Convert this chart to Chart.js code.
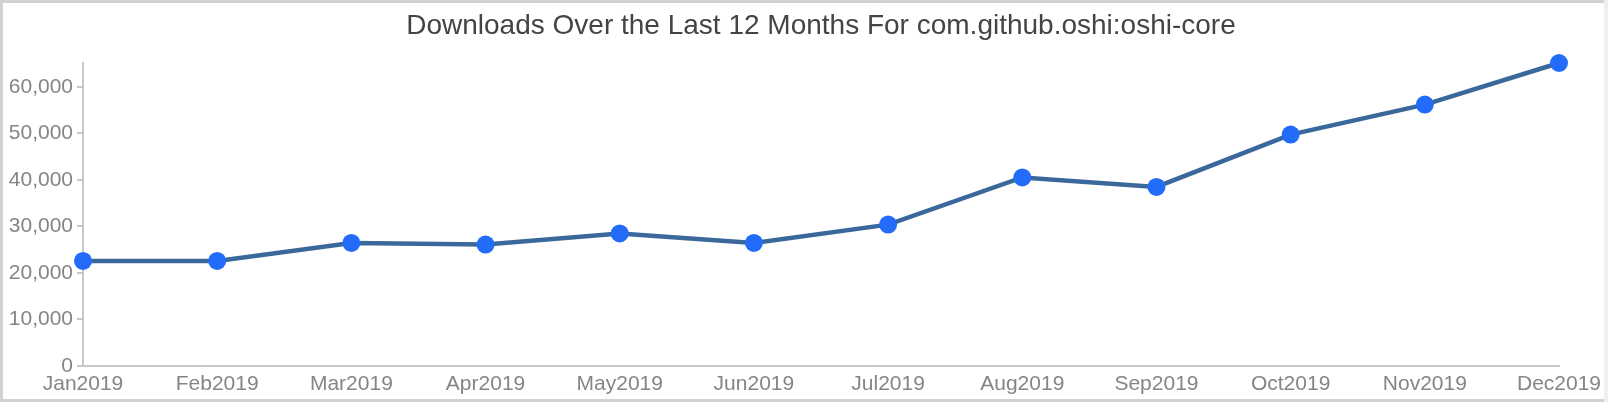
<!DOCTYPE html>
<html>
<head>
<meta charset="utf-8">
<script src="https://cdn.jsdelivr.net/npm/chart.js@4/dist/chart.umd.min.js"></script>
<style>
  html, body { margin: 0; padding: 0; background: #efefef; overflow: hidden; }
  .frame {
    position: absolute; left: 0; top: 0;
    width: 1604px; height: 402px; box-sizing: border-box;
    border: 3px solid #d2d2d2; border-right: none;
    background: #ffffff;
  }
  canvas { display: block; }
</style>
</head>
<body>
<div class="frame">
  <canvas id="downloads-chart" width="1601" height="396"></canvas>
</div>
<script>
// Monthly download counts
const months = ['Jan2019', 'Feb2019', 'Mar2019', 'Apr2019', 'May2019', 'Jun2019',
                'Jul2019', 'Aug2019', 'Sep2019', 'Oct2019', 'Nov2019', 'Dec2019'];
const downloads = [22600, 22600, 26450, 26100, 28500, 26450,
                   30400, 40550, 38500, 49750, 56200, 65150];
const yTicks = [0, 10000, 20000, 30000, 40000, 50000, 60000];
const chartTitle = 'Downloads Over the Last 12 Months For com.github.oshi:oshi-core';

const FONT = '"Liberation Sans", Arial, Helvetica, sans-serif';
const tickColor = '#858585';
const axisColor = '#c8c8c8';

// Title centred over the plot area rather than the whole canvas
const centeredTitle = {
  id: 'centeredTitle',
  afterDraw(chart) {
    const { ctx, chartArea } = chart;
    ctx.save();
    ctx.font = '28px ' + FONT;
    ctx.fillStyle = '#444444';
    ctx.textAlign = 'center';
    ctx.textBaseline = 'alphabetic';
    ctx.fillText(chartTitle, (chartArea.left + chartArea.right) / 2, 31);
    ctx.restore();
  }
};

const ctx = document.getElementById('downloads-chart').getContext('2d');

new Chart(ctx, {
  type: 'line',
  data: {
    labels: months,
    datasets: [{
      label: 'Downloads',
      data: downloads,
      borderColor: '#3a689b',
      borderWidth: 4.5,
      tension: 0,
      fill: false,
      clip: false,
      pointRadius: 9,
      pointHoverRadius: 9,
      pointBorderWidth: 0,
      pointBackgroundColor: '#236cfa'
    }]
  },
  options: {
    responsive: false,
    animation: false,
    devicePixelRatio: 1,
    layout: { padding: { top: 60, right: 45, bottom: 0, left: 0 } },
    plugins: {
      legend: { display: false },
      title: { display: false },
      tooltip: { enabled: false }
    },
    scales: {
      x: {
        offset: false,
        grid: { display: true, drawOnChartArea: false, drawTicks: false },
        border: { color: axisColor, width: 2 },
        ticks: {
          color: tickColor,
          font: { family: FONT, size: 21 },
          padding: 6,
          maxRotation: 0,
          autoSkip: false
        },
        afterFit(scale) {
          scale.paddingLeft = 0;
          scale.paddingRight = 0;
          scale.height = 33;
        }
      },
      y: {
        min: 0,
        max: Math.max(...downloads),
        grid: { display: true, drawOnChartArea: false, drawTicks: true, tickLength: 6, color: axisColor, lineWidth: 2 },
        border: { color: axisColor, width: 2 },
        ticks: {
          color: tickColor,
          font: { family: FONT, size: 21 },
          padding: 4,
          callback: v => v.toLocaleString('en-US')
        },
        afterBuildTicks(scale) {
          scale.ticks = yTicks.map(value => ({ value }));
        },
        afterFit(scale) {
          scale.width = 80;
        }
      }
    }
  },
  plugins: [centeredTitle]
});
</script>
</body>
</html>
